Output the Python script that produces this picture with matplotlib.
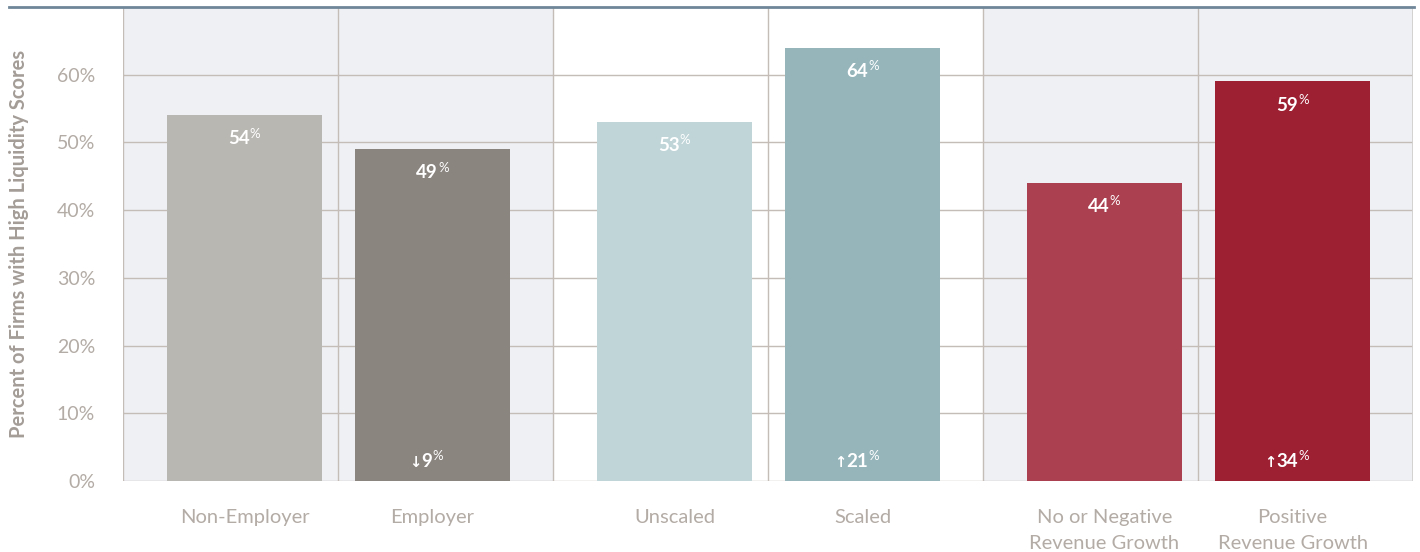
import matplotlib
matplotlib.use("Agg")
import matplotlib.pyplot as plt
from matplotlib.lines import Line2D

plt.rcParams['font.family'] = ['Lato', 'DejaVu Sans']

categories = ['Non-Employer', 'Employer', 'Unscaled', 'Scaled',
              'No or Negative\nRevenue Growth', 'Positive\nRevenue Growth']
values = [54, 49, 53, 64, 44, 59]
changes = ['', '\u2193', '', '\u2191', '', '\u2191']   # arrow for the difference label
change_values = [None, 9, None, 21, None, 34]
colors = ['#B9B7B2', '#8B8580', '#C0D5D8', '#95B5BB', '#AB4150', '#9C1F32']
yticks = [0, 10, 20, 30, 40, 50, 60]

grid_col = '#C4BCB6'
tick_col = '#B3ABA5'
shade = '#EFF0F4'

fig = plt.figure(figsize=(14.2, 5.52), dpi=100)
ax = fig.add_axes([0.0866, 0.1286, 0.9085, 0.8587])

# shading for first and last pair
for g in [0, 2]:
    ax.axvspan(2 * g, 2 * g + 2, color=shade, zorder=0, lw=0)

# bar positions: pulled toward the middle of each pair
xs = []
for i in range(len(categories)):
    off = 0.065 if i % 2 == 0 else -0.06
    xs.append(i + 0.5 + off)

ax.set_xlim(0, len(categories))
ax.set_ylim(0, 70)

for y in yticks:
    ax.axhline(y, color=grid_col, lw=1, zorder=1)
for i in range(len(categories) + 1):
    ax.axvline(i, color=grid_col, lw=1, zorder=1)

ax.bar(xs, values, width=0.72, color=colors, zorder=2)

def pct_label(x, y, txt, dy):
    t = ax.annotate(txt, xy=(x, y), xytext=(-4, dy), textcoords='offset points',
                    ha='center', va='center', color='white', fontsize=13.5,
                    fontweight='bold', zorder=3)
    ax.annotate('%', xy=(1.0, 1.0), xycoords=t, xytext=(0, 2), textcoords='offset points',
                ha='left', va='top', color='white', fontsize=9.5, zorder=3)
    return t

for x, v in zip(xs, values):
    pct_label(x, v, str(v), -17)

for x, a, c in zip(xs, changes, change_values):
    if c is None:
        continue
    t = pct_label(x, 0, str(c), 14)
    ax.annotate(a, xy=(0.0, 0.42), xycoords=t, xytext=(0, 0), textcoords='offset points',
                ha='right', va='center', color='white', fontsize=10.5, fontweight='bold',
                family=['DejaVu Sans'], zorder=3)

ax.set_yticks(yticks)
ax.set_yticklabels([str(y) + '%' for y in yticks])
ax.set_xticks(xs)
ax.set_xticklabels(categories, linespacing=1.65)
ax.tick_params(axis='y', length=0, pad=20, labelsize=14, labelcolor=tick_col)
ax.tick_params(axis='x', length=0, pad=20, labelsize=14.5, labelcolor=tick_col)

for s in ax.spines.values():
    s.set_visible(False)
ax.axvline(len(categories), color='#D3D1D0', lw=2, zorder=1)

ax.set_ylabel('Percent of Firms with High Liquidity Scores', fontsize=14.5,
              fontweight='bold', color='#A39C97')
ax.yaxis.set_label_coords(-0.073, 0.5)

# dark rule across the top
fig.add_artist(Line2D([0.006, 0.996], [0.987, 0.987], color='#6F8698', lw=2))

fig.savefig('out.png', dpi=100, facecolor='white')
